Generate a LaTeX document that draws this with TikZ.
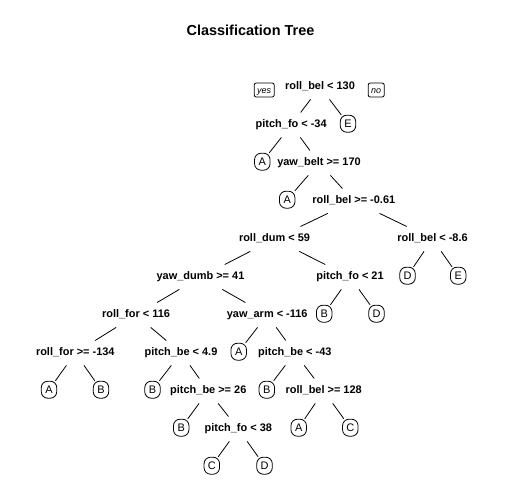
\documentclass[tikz,border=0pt]{standalone}
\usepackage{fontspec}
\setmainfont{Liberation Sans}
\begin{document}
\begin{tikzpicture}[x=1bp,y=-1bp,
  splitnode/.style={font=\bfseries\fontsize{11}{13}\selectfont, anchor=base,
    text height=15bp, text depth=9.5bp, inner sep=0pt},
  leafnode/.style={draw, line width=0.8bp, rounded corners=6.5bp, font=\fontsize{11}{13}\selectfont,
    minimum width=15.5bp, minimum height=17bp, inner sep=0pt, text height=7.9bp, text depth=0pt},
  yesno/.style={draw, line width=0.8bp, rounded corners=2bp, font=\itshape\fontsize{9}{10}\selectfont,
    inner xsep=3bp, inner ysep=0pt, minimum height=14bp, text height=6.5bp, text depth=0pt},
  branch/.style={line width=0.8bp},
  titlenode/.style={font=\bfseries\fontsize{14.5}{17}\selectfont}
]
\useasboundingbox (0,0) rectangle (504,504);
\node[titlenode] (title) at (250.5,30.7) {Classification Tree};
% split nodes (anchor=base at visual centre + 4)
\node[splitnode] (n1) at (320,89.7) {roll\_bel < 130};
\node[splitnode] (n2) at (291.2,127.7) {pitch\_fo < -34};
\node[splitnode] (n5) at (319,165.7) {yaw\_belt >= 170};
\node[splitnode] (n11) at (353.8,203.7) {roll\_bel >= -0.61};
\node[splitnode] (n22) at (274.5,241.7) {roll\_dum < 59};
\node[splitnode] (n23) at (432.5,241.7) {roll\_bel < -8.6};
\node[splitnode] (n44) at (200.5,279.7) {yaw\_dumb >= 41};
\node[splitnode] (n45) at (350,279.7) {pitch\_fo < 21};
\node[splitnode] (n88) at (136,317.7) {roll\_for < 116};
\node[splitnode] (n89) at (267.2,317.7) {yaw\_arm < -116};
\node[splitnode] (n176) at (75.3,355.7) {roll\_for >= -134};
\node[splitnode] (n177) at (181,355.7) {pitch\_be < 4.9};
\node[splitnode] (n179) at (294.8,355.7) {pitch\_be < -43};
\node[splitnode] (n355) at (208.3,393.7) {pitch\_be >= 26};
\node[splitnode] (n359) at (323.7,393.7) {roll\_bel >= 128};
\node[splitnode] (n711) at (238.3,431.7) {pitch\_fo < 38};
% leaves
\node[leafnode] (n3) at (348,123.7) {E};
\node[leafnode] (n4) at (262.3,161.7) {A};
\node[leafnode] (n10) at (287.2,199.7) {A};
\node[leafnode] (n46) at (407.5,275.7) {D};
\node[leafnode] (n47) at (458.2,275.7) {E};
\node[leafnode] (n90) at (324.2,313.7) {B};
\node[leafnode] (n91) at (376.5,313.7) {D};
\node[leafnode] (n178) at (238.7,351.7) {A};
\node[leafnode] (n352) at (49,389.7) {A};
\node[leafnode] (n353) at (101,389.7) {B};
\node[leafnode] (n354) at (152.5,389.7) {B};
\node[leafnode] (n358) at (266.8,389.7) {B};
\node[leafnode] (n710) at (181.2,427.7) {B};
\node[leafnode] (n718) at (298.7,427.7) {A};
\node[leafnode] (n719) at (350.3,427.7) {C};
\node[leafnode] (n1422) at (211.8,465.7) {C};
\node[leafnode] (n1423) at (264.5,465.7) {D};
% yes / no
\node[yesno] (yes) at (264.2,90) {yes};
\node[yesno] (no) at (376.2,90) {no};
% branches
\draw[branch] (n1) -- (n2);
\draw[branch] (n1) -- (n3);
\draw[branch] (n2) -- (n4);
\draw[branch] (n2) -- (n5);
\draw[branch] (n5) -- (n10);
\draw[branch] (n5) -- (n11);
\draw[branch] (n11) -- (n22);
\draw[branch] (n11) -- (n23);
\draw[branch] (n22) -- (n44);
\draw[branch] (n22) -- (n45);
\draw[branch] (n23) -- (n46);
\draw[branch] (n23) -- (n47);
\draw[branch] (n44) -- (n88);
\draw[branch] (n44) -- (n89);
\draw[branch] (n45) -- (n90);
\draw[branch] (n45) -- (n91);
\draw[branch] (n88) -- (n176);
\draw[branch] (n88) -- (n177);
\draw[branch] (n89) -- (n178);
\draw[branch] (n89) -- (n179);
\draw[branch] (n176) -- (n352);
\draw[branch] (n176) -- (n353);
\draw[branch] (n177) -- (n354);
\draw[branch] (n177) -- (n355);
\draw[branch] (n179) -- (n358);
\draw[branch] (n179) -- (n359);
\draw[branch] (n355) -- (n710);
\draw[branch] (n355) -- (n711);
\draw[branch] (n359) -- (n718);
\draw[branch] (n359) -- (n719);
\draw[branch] (n711) -- (n1422);
\draw[branch] (n711) -- (n1423);
\end{tikzpicture}
\end{document}
